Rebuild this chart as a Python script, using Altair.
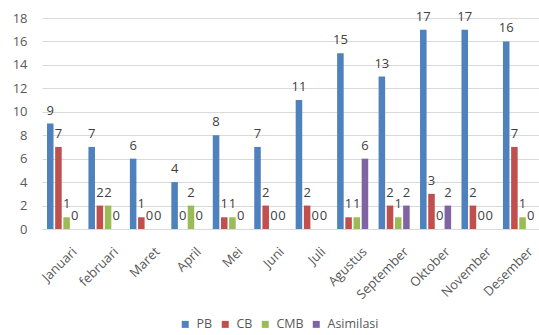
import altair as alt
import pandas as pd

months = ["Januari", "februari", "Maret", "April", "Mei", "Juni", "Juli",
          "Agustus", "September", "Oktober", "November", "Desember"]
series = ["PB", "CB", "CMB", "Asimilasi"]
colors = ["#4F81BD", "#C0504D", "#9BBB59", "#8064A2"]

pb = [9, 7, 6, 4, 8, 7, 11, 15, 13, 17, 17, 16]
cb = [7, 2, 1, 0, 1, 2, 2, 1, 2, 3, 2, 7]
cmb = [1, 2, 0, 2, 1, 0, 0, 1, 1, 0, 0, 1]
asimilasi = [0, 0, 0, 0, 0, 0, 0, 6, 2, 2, 0, 0]

rows = []
for name, vals in zip(series, [pb, cb, cmb, asimilasi]):
    for m, v in zip(months, vals):
        rows.append({"month": m, "series": name, "value": v})
df = pd.DataFrame(rows)

FONT = "Open Sans"

x = alt.X("month:N", sort=months, title=None,
          scale=alt.Scale(paddingInner=0.25, paddingOuter=0.12),
          axis=alt.Axis(labelAngle=-45, labelAlign="right", labelBaseline="top",
                        labelPadding=16, labelOffset=8, ticks=False,
                        domainColor="#D9D9D9", labelColor="#595959",
                        labelFontSize=13, labelFont=FONT))
xo = alt.XOffset("series:N", sort=series,
                 scale=alt.Scale(paddingInner=0.2, paddingOuter=0))
y = alt.Y("value:Q", title=None,
          scale=alt.Scale(domain=[0, 18], nice=False),
          axis=alt.Axis(values=list(range(0, 19, 2)), grid=True, gridColor="#D9D9D9",
                        domain=False, ticks=False, labelColor="#595959",
                        labelFontSize=13, labelFont=FONT, labelPadding=15))

color = alt.Color("series:N", sort=series, title=None,
                  scale=alt.Scale(domain=series, range=colors),
                  legend=alt.Legend(orient="none", legendX=137, legendY=300,
                                    direction="horizontal", symbolType="square",
                                    symbolSize=49, symbolStrokeWidth=0,
                                    labelFontSize=12.5, labelFont=FONT,
                                    labelColor="#595959", columnPadding=6,
                                    labelOffset=5))

bars = alt.Chart(df).mark_bar().encode(x=x, xOffset=xo, y=y, color=color)
labels = alt.Chart(df).mark_text(dy=-9, baseline="alphabetic", fontSize=13,
                                 font=FONT, color="#404040").encode(
    x=x, xOffset=xo, y=y, text=alt.Text("value:Q"))

chart = alt.layer(bars, labels).properties(
    width=497, height=211,
    autosize=alt.AutoSizeParams(type="none"),
    padding={"left": 42, "top": 18, "right": 0, "bottom": 106},
).configure_view(stroke=None)

chart.save("out.html", embed_options={"renderer": "svg", "actions": False})
